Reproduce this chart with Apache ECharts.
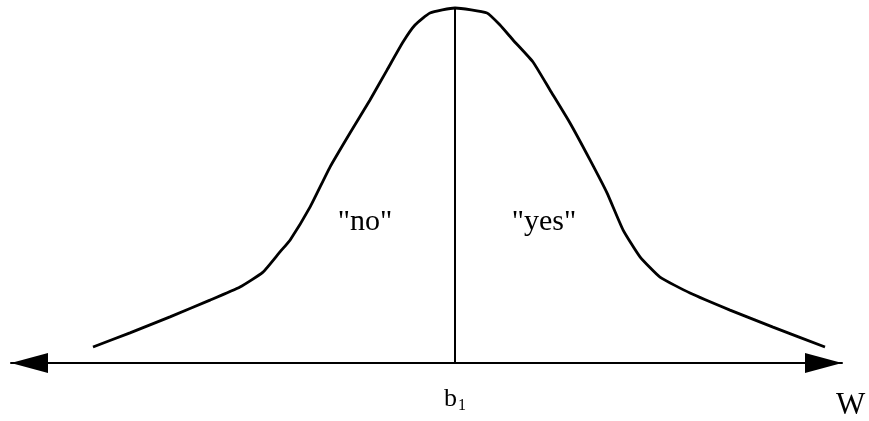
<!DOCTYPE html>
<html>
<head>
<meta charset="utf-8">
<script src="https://cdn.jsdelivr.net/npm/echarts@6/dist/echarts.min.js"></script>
<style>
    html, body { margin: 0; padding: 0; background: #fff; }
    #curveChart { width: 869px; height: 421px; }
</style>
</head>
<body>
<div id="curveChart"></div>
<script>
// curve: W (b1 = 0) and relative height (peak = 1)
var curveW = [-9.05, -8.125, -7.125, -6.125, -5.375, -4.8, -4.375, -4.125, -3.625, -3.125, -2.625, -2.125,
    -1.7, -1.3, -1.0, -0.625, 0, 0.8, 1.125, 1.45, 1.95, 2.375, 2.875, 3.375, 3.8, 4.2, 4.625, 5.125,
    5.875, 6.875, 7.95, 9.25];
var curveH = [0.045, 0.085, 0.13, 0.177, 0.214, 0.256, 0.313, 0.346, 0.439, 0.552, 0.648, 0.741,
    0.825, 0.904, 0.952, 0.986, 1.0, 0.986, 0.952, 0.91, 0.848, 0.769, 0.676, 0.572, 0.479, 0.375, 0.299, 0.242,
    0.197, 0.149, 0.101, 0.045];

// threshold b1 and the two region labels
var thresholdW = 0;
var regionNames = ['"no"', '"yes"'];
var regionW = [-2.25, 2.225];
var regionH = [0.397, 0.397];

var wMin = -11.1;
var wMax = 9.675;

(function () {
    var chart = echarts.init(document.getElementById('curveChart'));

    var curveData = [];
    for (var i = 0; i < curveW.length; i++) {
        curveData.push([curveW[i], curveH[i]]);
    }
    var labelData = [];
    for (var j = 0; j < regionNames.length; j++) {
        labelData.push({ name: regionNames[j], value: [regionW[j], regionH[j]] });
    }

    chart.setOption({
        backgroundColor: '#fff',
        animation: false,
        grid: {
            left: 11,
            right: 27,
            top: 8,
            bottom: 58
        },
        xAxis: {
            type: 'value',
            min: wMin,
            max: wMax,
            name: 'W',
            nameLocation: 'end',
            nameGap: -6,
            nameTextStyle: {
                fontFamily: 'Liberation Serif',
                fontSize: 31,
                color: '#000',
                align: 'left',
                verticalAlign: 'top',
                padding: [27, 0, 0, 0]
            },
            splitLine: { show: false },
            axisTick: { show: false },
            axisLine: {
                show: true,
                onZero: false,
                symbol: ['triangle', 'triangle'],
                symbolSize: [20, 37],
                symbolOffset: [18.5, -18.5],
                lineStyle: { color: '#000', width: 2 }
            },
            axisLabel: {
                customValues: [thresholdW],
                margin: 21,
                formatter: function () {
                    return '{b|b}{s|1}';
                },
                rich: {
                    b: { fontFamily: 'Liberation Serif', fontSize: 26, color: '#000' },
                    s: { fontFamily: 'Liberation Serif', fontSize: 16, color: '#000', padding: [14, 0, 0, 1] }
                }
            }
        },
        yAxis: {
            type: 'value',
            min: 0,
            max: 1,
            show: false
        },
        series: [{
            // 钟形曲线
            type: 'line',
            data: curveData,
            smooth: 0.15,
            symbol: 'none',
            clip: false,
            lineStyle: { color: '#000', width: 2.8 }
        }, {
            // b1 处的竖线
            type: 'line',
            data: [[thresholdW, 0], [thresholdW, 1]],
            symbol: 'none',
            clip: false,
            lineStyle: { color: '#000', width: 2 }
        }, {
            type: 'scatter',
            data: labelData,
            symbolSize: 0,
            itemStyle: { opacity: 1 },
            label: {
                show: true,
                position: 'inside',
                formatter: '{b}',
                fontFamily: 'Liberation Serif',
                fontSize: 30,
                color: '#000',
                opacity: 1,
                textBorderWidth: 0
            }
        }]
    });
})();
</script>
</body>
</html>
